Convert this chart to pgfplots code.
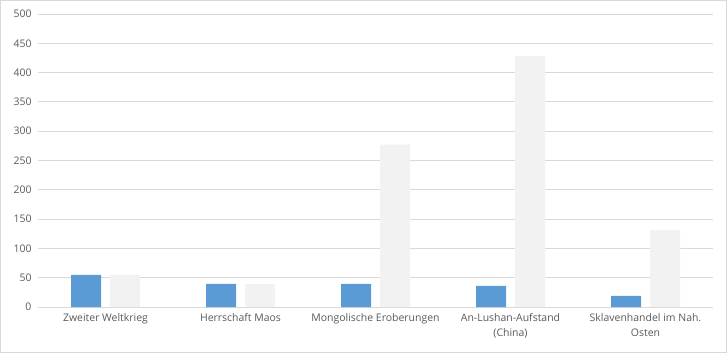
\documentclass[border=0pt]{standalone}
\usepackage{pgfplots}
\pgfplotsset{compat=1.18}
\usepackage{fontspec}
\setmainfont{Open Sans}
\definecolor{barblue}{HTML}{5B9BD5}
\definecolor{bargray}{HTML}{F2F2F2}
\definecolor{gridc}{HTML}{D9D9D9}
\definecolor{txt}{HTML}{595959}
\begin{document}
\begin{tikzpicture}
\useasboundingbox (-38bp,-46bp) rectangle (689bp,307bp);
\draw[gridc, line width=0.8bp] (-37.5bp,-45.5bp) rectangle (688.5bp,306.5bp);
\begin{axis}[
  scale only axis,
  width=675bp, height=293bp,
  at={(0,0)}, anchor=south west,
  ybar=9bp, bar width=30bp,
  ymin=0, ymax=500, ytick={0,50,...,500},
  xmin=-0.5, xmax=4.5,
  xtick={0,1,2,3,4},
  xticklabels={Zweiter Weltkrieg, Herrschaft Maos, Mongolische Eroberungen, {An-Lushan-Aufstand\\(China)}, {Sklavenhandel im Nah.\\Osten}},
  xticklabel style={align=center, font=\fontsize{10.5}{15}\selectfont, text=txt, yshift=-3bp},
  yticklabel style={font=\fontsize{10.5}{12}\selectfont, text=txt, xshift=-3bp},
  /pgf/number format/assume math mode=true,
  axis line style={draw=none},
  major tick length=0pt,
  ymajorgrids, grid style={gridc, line width=0.8bp},
  enlarge x limits=false,
  clip=false,
]
\addplot[fill=barblue, draw=none] coordinates {(0,55) (1,39.5) (2,39.5) (3,36) (4,19)};
\addplot[fill=bargray, draw=none] coordinates {(0,55) (1,39.5) (2,277) (3,428) (4,131.5)};
\end{axis}
\end{tikzpicture}
\end{document}
